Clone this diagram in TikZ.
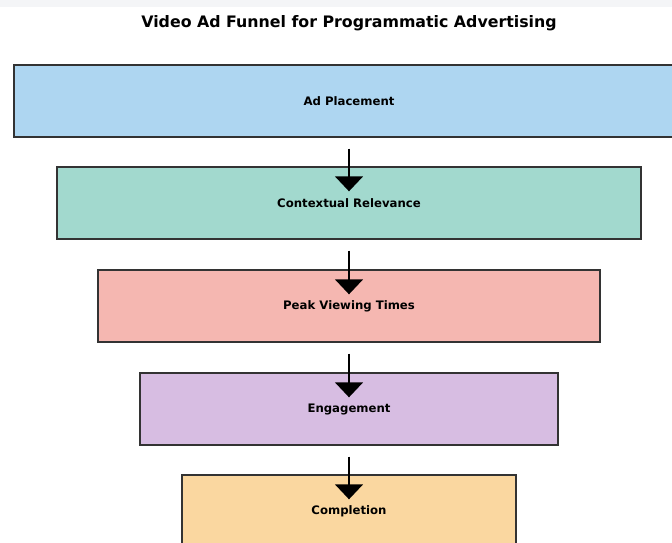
\documentclass[tikz,border=0pt]{standalone}
\usepackage{fontspec}
\setmainfont{DejaVu Sans}
\usetikzlibrary{arrows.meta,calc}
\definecolor{bandgrey}{HTML}{F4F5F7}
\definecolor{edgegrey}{HTML}{333333}
\definecolor{cBlue}{HTML}{AED6F1}
\definecolor{cGreen}{HTML}{A2D9CE}
\definecolor{cRed}{HTML}{F5B7B1}
\definecolor{cPurple}{HTML}{D7BDE2}
\definecolor{cOrange}{HTML}{FAD7A0}
\tikzset{
  stage/.style={draw=edgegrey, line width=1.4pt, minimum height=72pt,
    inner sep=0pt, font=\fontsize{11.7}{13}\selectfont\bfseries},
  flow/.style={line width=1.6pt, -{Triangle[width=28pt,length=15pt]}},
}
\begin{document}
\begin{tikzpicture}[x=1pt,y=-1pt]
  \useasboundingbox (0,0) rectangle (672,542);
  \clip (0,0) rectangle (672,542);
  \fill[white] (0,0) rectangle (672,542);
  \fill[bandgrey] (0,0) rectangle (672,7);
  \node[font=\fontsize{15.8}{18}\selectfont\bfseries] (title) at (349,23)
    {Video Ad Funnel for Programmatic Advertising};
  \node[stage, fill=cBlue,   minimum width=670pt] (s1) at (349,101) {Ad Placement};
  \node[stage, fill=cGreen,  minimum width=584pt] (s2) at (349,203) {Contextual Relevance};
  \node[stage, fill=cRed,    minimum width=502pt] (s3) at (349,306) {Peak Viewing Times};
  \node[stage, fill=cPurple, minimum width=418pt] (s4) at (349,409) {Engagement};
  \node[stage, fill=cOrange, minimum width=334pt] (s5) at (349,511) {Completion};
  \foreach \a/\b in {s1/s2,s2/s3,s3/s4,s4/s5}
    \draw[flow] ($(\a.south)+(0,11)$) -- ($(\b.north)+(0,25)$);
\end{tikzpicture}
\end{document}
